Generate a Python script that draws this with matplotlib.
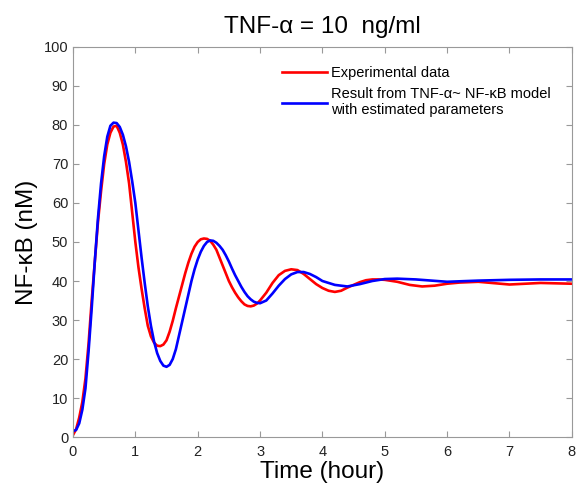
import numpy as np
import matplotlib
matplotlib.use("Agg")
import matplotlib.pyplot as plt

plt.rcParams['font.family'] = ['Liberation Sans', 'DejaVu Sans']

# experimental data (red)
t_exp = [0, 0.05, 0.1, 0.15, 0.2, 0.25, 0.3, 0.35, 0.4, 0.45, 0.5, 0.55, 0.6, 0.65,
         0.7, 0.75, 0.8, 0.85, 0.9, 0.95, 1.0, 1.05, 1.1, 1.15, 1.2, 1.25, 1.3, 1.35,
         1.4, 1.45, 1.5, 1.55, 1.6, 1.65, 1.7, 1.75, 1.8, 1.85, 1.9, 1.95, 2.0, 2.05,
         2.1, 2.15, 2.2, 2.25, 2.3, 2.35, 2.4, 2.45, 2.5, 2.55, 2.6, 2.65, 2.7, 2.75,
         2.8, 2.85, 2.9, 2.95, 3.0, 3.1, 3.2, 3.3, 3.4, 3.5, 3.6, 3.7, 3.8, 3.9, 4.0,
         4.1, 4.2, 4.3, 4.4, 4.5, 4.6, 4.7, 4.8, 4.9, 5.0, 5.2, 5.4, 5.6, 5.8, 6.0,
         6.2, 6.5, 7.0, 7.5, 8.0]
nfkb_exp = [0.5, 2, 5, 9, 15, 24, 35, 45, 55, 63, 70, 75, 78, 79.6,
            79.8, 78, 75, 70.5, 65, 57.5, 50, 43.5, 38, 33, 28.5, 25.8, 24.2, 23.4,
            23.3, 23.7, 24.8, 27, 29.8, 33, 36, 39, 42, 44.7, 47, 48.8, 50, 50.7,
            50.9, 50.8, 50.3, 49.3, 48, 46, 44, 42, 40, 38.4, 37, 35.8, 34.8, 34,
            33.6, 33.5, 33.7, 34.2, 35, 37, 39.5, 41.5, 42.6, 43, 42.8, 41.8, 40.5, 39.2, 38.2,
            37.5, 37.2, 37.5, 38.3, 39, 39.7, 40.2, 40.4, 40.4, 40.3, 39.8, 39.0, 38.6, 38.8, 39.3,
            39.6, 39.8, 39.1, 39.5, 39.3]

# model result (blue)
t_mod = [0, 0.05, 0.1, 0.15, 0.2, 0.25, 0.3, 0.35, 0.4, 0.45, 0.5, 0.55, 0.6, 0.65,
         0.7, 0.75, 0.8, 0.85, 0.9, 0.95, 1.0, 1.05, 1.1, 1.15, 1.2, 1.25, 1.3, 1.35,
         1.4, 1.45, 1.5, 1.55, 1.6, 1.65, 1.7, 1.75, 1.8, 1.85, 1.9, 1.95, 2.0, 2.05,
         2.1, 2.15, 2.2, 2.25, 2.3, 2.35, 2.4, 2.45, 2.5, 2.55, 2.6, 2.65, 2.7, 2.75,
         2.8, 2.85, 2.9, 2.95, 3.0, 3.1, 3.2, 3.3, 3.4, 3.5, 3.6, 3.7, 3.8, 3.9, 4.0,
         4.2, 4.4, 4.6, 4.8, 5.0, 5.2, 5.5, 6.0, 6.5, 7.0, 7.5, 8.0]
nfkb_mod = [1.5, 1.8, 3.5, 7, 12.5, 22, 33, 45, 56, 65, 72, 77, 79.8, 80.6,
            80.5, 79.5, 77.5, 74.5, 70.5, 65.5, 60, 53, 46, 39.5, 33.5, 28.5, 24.5, 21.5,
            19.5, 18.3, 18, 18.5, 20, 22.5, 26, 29.5, 33, 36.5, 40, 43, 45.5, 47.5,
            49, 50, 50.4, 50.3, 49.8, 49, 48, 46.6, 45, 43.2, 41.5, 40, 38.5, 37.2,
            36.1, 35.3, 34.7, 34.4, 34.3, 35, 36.8, 38.8, 40.5, 41.7, 42.3, 42.3, 41.8, 41, 40,
            39, 38.6, 39.2, 40, 40.5, 40.6, 40.4, 39.8, 40.1, 40.3, 40.4, 40.4]

fig = plt.figure(figsize=(5.77, 4.88), dpi=100)
ax = fig.add_axes([0.1265, 0.1045, 0.8645, 0.7992])

ax.plot(t_exp, nfkb_exp, color='#ff0000', lw=1.9, label='Experimental data')
ax.plot(t_mod, nfkb_mod, color='#0000ff', lw=1.9,
        label='Result from TNF-α~ NF-κB model\nwith estimated parameters')

ax.set_xlim(0, 8)
ax.set_ylim(0, 100)
ax.set_xticks(range(0, 9))
ax.set_yticks(range(0, 101, 10))
ax.tick_params(direction='in', top=True, right=True, labelsize=10.5, colors='#222222',
               length=4, color='#999999')
ax.tick_params(axis='x', pad=6)
for s in ax.spines.values():
    s.set_color('#999999')

ax.set_xlabel('Time (hour)', fontsize=17.5, labelpad=1)
ax.set_ylabel('NF-κB (nM)', fontsize=17.5, labelpad=4)
ax.set_title('TNF-α = 10  ng/ml', fontsize=17.5, pad=10)

ax.legend(loc='upper right', bbox_to_anchor=(0.985, 0.985), frameon=False, fontsize=10.5,
          handlelength=3.1, handletextpad=0.3, labelspacing=0.5)

fig.savefig('out.png', dpi=100)
